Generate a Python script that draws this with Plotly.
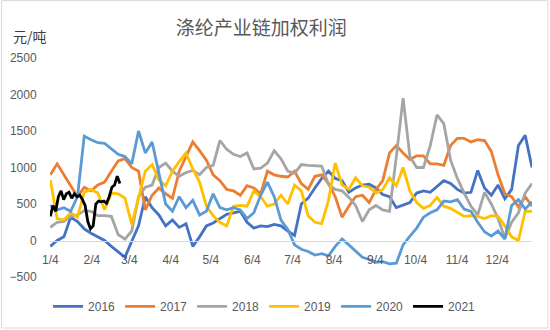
import pandas as pd
import plotly.graph_objects as go

# Sample dates (reference year), roughly every 5 days from Jan 4 to Dec 30
dates = pd.date_range("2021-01-04", "2021-12-30", periods=72)

y2016 = [-80, 0, 50, 320, 260, 160, 100, 50, 0, -80, -150, -230,
         -10, 200, 600, 450, 350, 200, 280, 180, 230, -80, 50, 200,
         240, 300, 360, 380, 400, 250, 170, 200, 190, 220, 200, 130,
         70, 500, 580, 720, 850, 950, 850, 820, 660, 720, 760, 770,
         720, 630, 600, 450, 480, 520, 650, 680, 660, 740, 820, 780,
         700, 650, 660, 960, 720, 620, 760, 570, 700, 1300, 1440, 1000]

y2017 = [900, 1050, 900, 750, 600, 730, 680, 760, 800, 950, 1090, 1120,
         1000, 950, 420, 620, 720, 640, 580, 950, 1150, 1350, 1230, 1100,
         900, 820, 700, 680, 620, 750, 720, 640, 950, 900, 880, 870,
         950, 780, 700, 880, 900, 780, 600, 320, 470, 600, 620, 520,
         700, 820, 1200, 1300, 1200, 1110, 1160, 1160, 1050, 1050, 1030, 1300,
         1400, 1400, 1350, 1380, 1370, 1220, 900, 640, 600, 460, 600, 470]

y2018 = [180, 250, 260, 330, 350, 410, 400, 340, 340, 330, 80, 20,
         130, 600, 730, 760, 1000, 1060, 950, 880, 930, 960, 900, 1000,
         1030, 1370, 1250, 1180, 1150, 1200, 980, 990, 1060, 1230, 1120, 950,
         920, 1040, 1030, 1030, 1020, 770, 700, 680, 590, 480, 260, 420,
         480, 420, 400, 1150, 1950, 1150, 1000, 1000, 1300, 1720, 1600, 1100,
         850, 650, 470, 350, 660, 500, 300, 30, 250, 380, 650, 780]

y2019 = [830, 300, 280, 380, 320, 660, 700, 650, 420, 650, 640, 580,
         220, 600, 950, 1040, 830, 750, 950, 1080, 1200, 980, 800, 470,
         340, 250, 200, 470, 480, 470, 680, 600, 470, 500, 620, 500,
         760, 680, 340, 250, 230, 550, 1060, 760, 700, 860, 750, 730,
         650, 700, 860, 750, 1000, 680, 520, 440, 480, 590, 470, 440,
         390, 330, 340, 330, 300, 340, 330, 200, 50, 0, 400, 400]

y2020 = [480, 420, 450, 400, 600, 1430, 1380, 1340, 1330, 1260, 1180, 1150,
         1050, 1500, 1200, 1350, 900, 500, 400, 600, 450, 550, 350, 400,
         640, 450, 420, 450, 420, 300, 380, 620, 800, 600, 280, 150,
         -60, -120, -150, -200, -180, -210, -80, 20, -60, -150, -230, -260,
         -300, -290, -320, -310, -60, 60, 170, 320, 380, 420, 540, 530,
         560, 430, 400, 250, 120, 60, 130, 20, 480, 560, 430, 530]

# 2021: only January–February, sampled every 2 days
dates2021 = pd.date_range("2021-01-04", "2021-02-25", freq="2D")
y2021 = [330, 480, 400, 600, 680, 560, 640, 660, 580, 640, 600, 620,
         560, 480, 260, 160, 200, 500, 540, 530, 540, 510, 600, 730,
         760, 880, 780]

tick_dates = ["2021-%02d-04" % m for m in range(1, 13)]
tick_text = ["%d/4" % m for m in range(1, 13)]

series = [
    ("2016", dates, y2016, "#4472C4"),
    ("2017", dates, y2017, "#ED7D31"),
    ("2018", dates, y2018, "#A5A5A5"),
    ("2019", dates, y2019, "#FFC000"),
    ("2020", dates, y2020, "#5B9BD5"),
    ("2021", dates2021, y2021, "#000000"),
]

fig = go.Figure()
for name, x, y, color in series:
    fig.add_trace(go.Scatter(x=x, y=y, name=name, mode="lines",
                             line=dict(color=color, width=2.8)))

fig.update_layout(
    width=550, height=330,
    margin=dict(l=50, r=18, t=58, b=53, autoexpand=False),
    paper_bgcolor="white", plot_bgcolor="white",
    font=dict(family="Liberation Sans, Noto Sans CJK SC", size=12, color="#595959"),
    title=dict(text="涤纶产业链加权利润", x=0.475, xanchor="center", y=0.915, yanchor="middle",
               font=dict(family="Noto Sans CJK SC", size=19, color="#595959")),
    showlegend=True,
    legend=dict(orientation="h", x=-0.004, xanchor="left", y=-0.134, yanchor="middle",
                entrywidth=27, entrywidthmode="pixels",
                font=dict(size=12, color="#595959"), bgcolor="rgba(0,0,0,0)"),
    xaxis=dict(type="date", range=["2021-01-03 18:00", "2021-12-30"],
               tickvals=tick_dates, ticktext=tick_text,
               showgrid=False, zeroline=False,
               showline=True, linecolor="#D9D9D9", linewidth=1,
               anchor="free", position=1/6,
               ticks="outside", ticklen=8, tickcolor="rgba(0,0,0,0)",
               tickfont=dict(size=12, color="#595959")),
    yaxis=dict(range=[-500, 2500], dtick=500, showgrid=False, zeroline=False,
               showline=False, ticks="outside", ticklen=10, tickcolor="rgba(0,0,0,0)",
               tickfont=dict(size=12, color="#595959")),
)

fig.add_annotation(text="元/吨", xref="paper", yref="paper", x=-0.0415, y=1.1,
                   xanchor="center", yanchor="middle", showarrow=False,
                   font=dict(family="Noto Sans CJK SC", size=14, color="#404040"))

fig.add_shape(type="rect", xref="paper", yref="paper",
              x0=-0.1007, x1=1.033, y0=-0.233, y1=1.262,
              line=dict(color="#D9D9D9", width=1), fillcolor="rgba(0,0,0,0)")

fig.write_html("out.html")
